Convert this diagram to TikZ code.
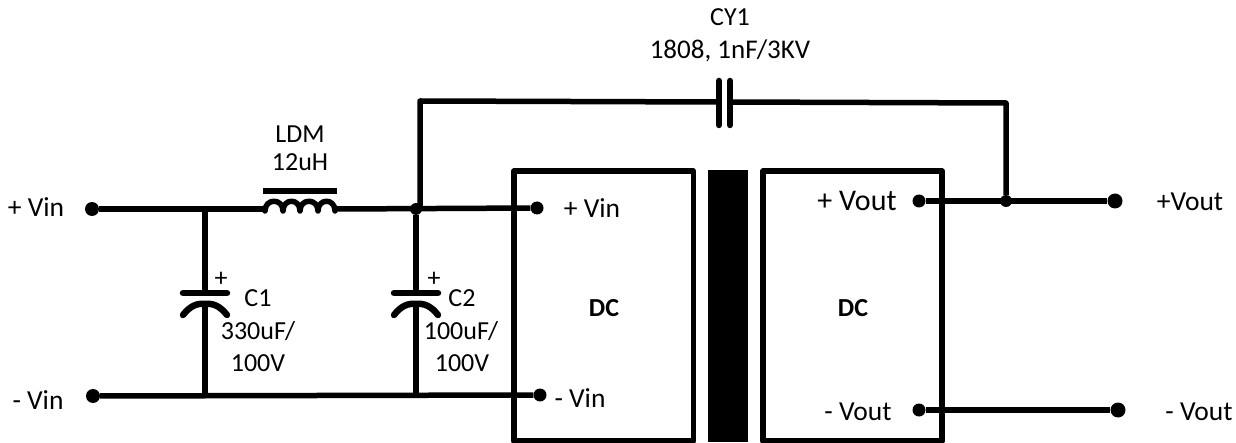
\documentclass[tikz,border=0pt]{standalone}
\usepackage{fontspec}
\setmainfont{Carlito}
\usetikzlibrary{shapes,arrows}

\begin{document}
\begin{tikzpicture}[x=1pt, y=-1pt, line join=round]
\tikzstyle{dotstyle}=[circle, fill=black, inner sep=0pt, minimum size=14pt]
\tikzstyle{joinstyle}=[circle, fill=black, inner sep=0pt, minimum size=12pt]
\tikzstyle{textstyle}=[anchor=base, inner sep=0pt, font=\fontsize{26}{28}\selectfont]
\tikzstyle{pinstyle}=[anchor=base, inner sep=0pt, font=\fontsize{27.5}{30}\selectfont]
\tikzstyle{boldstyle}=[anchor=base, inner sep=0pt, font=\fontsize{26}{28}\selectfont\bfseries]
\tikzstyle{boxstyle}=[rectangle, draw, line width=5.5pt, inner sep=0pt]
\tikzstyle{wirestyle}=[line width=5.5pt]
\tikzstyle{platestyle}=[line width=6.5pt, line cap=round]

\useasboundingbox (0,0) rectangle (1236,443);

\node[boxstyle, minimum width=179.5pt, minimum height=270pt] (DCin) at (603.5,306) {};
\node[boxstyle, minimum width=179pt, minimum height=270pt] (DCout) at (852.5,306) {};
\node[rectangle, fill=black, minimum width=40pt, minimum height=272pt, inner sep=0pt] (Core) at (728,306) {};

\node[dotstyle] (VinP) at (92,209) {};
\node[dotstyle] (VinN) at (93,396) {};
\node[dotstyle, minimum size=13pt] (PinP) at (537,208) {};
\node[dotstyle, minimum size=13pt] (PinN) at (540,395) {};
\node[dotstyle, minimum size=13pt] (PoutP) at (919,201) {};
\node[dotstyle, minimum size=13pt] (PoutN) at (919,410) {};
\node[dotstyle, minimum size=15pt] (VoutP) at (1115,201) {};
\node[dotstyle, minimum size=15pt] (VoutN) at (1118,410) {};
\node[joinstyle, minimum size=6pt] (J0) at (205,209) {};
\node[joinstyle] (J1) at (416,209) {};
\node[joinstyle] (J2) at (1006,201) {};
\coordinate (J3) at (205,396);
\coordinate (J4) at (416,396);
\coordinate (Top0) at (420,101);
\coordinate (Top1) at (1006,103);
\coordinate (Top2) at (420,209);

\coordinate (L0) at (263,209);
\coordinate (L1) at (337,209);
\coordinate (C1a) at (205,293);
\coordinate (C1b) at (205,304);
\coordinate (C2a) at (416,293);
\coordinate (C2b) at (416,304);
\coordinate (CYa) at (719,102);
\coordinate (CYb) at (730,102);

\draw[wirestyle] (VinP) -- (L0);
\draw[wirestyle] (L1) -- (PinP);
\draw[wirestyle] (VinN) -- (PinN);
\draw[wirestyle] (PoutP) -- (VoutP);
\draw[wirestyle] (PoutN) -- (VoutN);
\draw[wirestyle] (J0) -- (C1a);
\draw[wirestyle] (C1b) -- (J3);
\draw[wirestyle, line width=6.5pt] (J1) -- (C2a);
\draw[wirestyle, line width=6.5pt] (C2b) -- (J4);
\draw[wirestyle] (Top2) -- (Top0) -- (CYa);
\draw[wirestyle] (CYb) -- (Top1) -- (J2);

\draw[platestyle] (183,293) -- (C1a) -- (227,293);
\draw[platestyle] (183,315) .. controls (190,306) and (197,303) .. (C1b) .. controls (213,303) and (220,306) .. (227,315);
\draw[platestyle] (394,293) -- (C2a) -- (438,293);
\draw[platestyle] (394,315) .. controls (401,306) and (408,303) .. (C2b) .. controls (424,303) and (431,306) .. (438,315);
\draw[platestyle] (719,81) -- (CYa) -- (719,125);
\draw[platestyle] (730,81) -- (CYb) -- (730,125);

\draw[wirestyle] (263,191) -- (337,191);
\draw[line width=5.5pt, line cap=round] (265,211) .. controls (265,198) and (283,198) .. (283,211) .. controls (283,198) and (300,198) .. (300,211) .. controls (300,198) and (318,198) .. (318,211) .. controls (318,198) and (335,198) .. (335,211);

\node[textstyle] (CYname) at (730,26) {CY1};
\node[textstyle, font=\fontsize{27}{30}\selectfont] (CYval) at (730,59) {1808, 1nF/3KV};
\node[textstyle] (LDMname) at (300,143) {LDM};
\node[textstyle] (LDMval) at (300,171) {12uH};
\node[textstyle] (C1plus) at (221,287) {+};
\node[textstyle] (C1name) at (258,307) {C1};
\node[textstyle] (C1val) at (258,339) {330uF/};
\node[textstyle] (C1volt) at (258,371) {100V};
\node[textstyle] (C2plus) at (434,287) {+};
\node[textstyle] (C2name) at (462,307) {C2};
\node[textstyle] (C2val) at (461,339) {100uF/};
\node[textstyle] (C2volt) at (462,371) {100V};
\node[boldstyle] (DCa) at (604,317) {DC};
\node[boldstyle] (DCb) at (853,317) {DC};
\node[pinstyle] (VinPtext) at (36,217) {+ Vin};
\node[pinstyle] (VinNtext) at (38,409) {- Vin};
\node[pinstyle] (PinPtext) at (592,218) {+ Vin};
\node[pinstyle] (PinNtext) at (580,407) {- Vin};
\node[pinstyle, font=\fontsize{30}{32}\selectfont] (PoutPtext) at (857,211) {+ Vout};
\node[pinstyle] (PoutNtext) at (858,420) {- Vout};
\node[pinstyle] (VoutPtext) at (1190,211) {+Vout};
\node[pinstyle] (VoutNtext) at (1199,420) {- Vout};
\end{tikzpicture}
\end{document}
